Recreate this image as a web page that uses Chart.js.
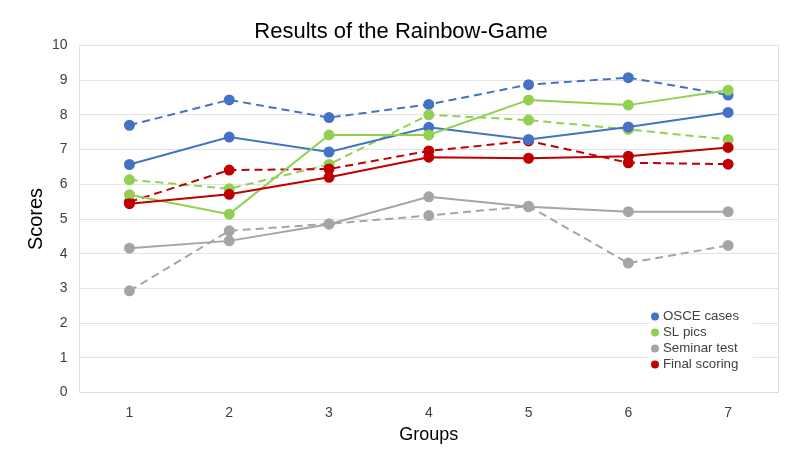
<!DOCTYPE html>
<html>
<head>
<meta charset="utf-8">
<script src="https://cdn.jsdelivr.net/npm/chart.js@4.4.0/dist/chart.umd.min.js"></script>
<style>
html,body{margin:0;padding:0;background:#fff;}
#wrap{width:800px;height:450px;}
</style>
</head>
<body>
<div id="wrap"><canvas id="c" width="800" height="450"></canvas></div>
<script>
const groups = ['1','2','3','4','5','6','7'];
const seriesNames = ['OSCE cases','SL pics','Seminar test','Final scoring'];
const osceSolid  = [6.57, 7.36, 6.93, 7.64, 7.29, 7.65, 8.07];
const osceDashed = [7.70, 8.43, 7.92, 8.30, 8.87, 9.07, 8.57];
const slSolid    = [5.70, 5.14, 7.42, 7.42, 8.43, 8.28, 8.71];
const slDashed   = [6.13, 5.87, 6.57, 8.00, 7.85, 7.58, 7.29];
const semSolid   = [4.16, 4.37, 4.85, 5.64, 5.35, 5.21, 5.21];
const semDashed  = [2.93, 4.66, 4.86, 5.10, 5.37, 3.73, 4.24];
const finSolid   = [5.44, 5.71, 6.20, 6.78, 6.75, 6.81, 7.06];
const finDashed  = [5.49, 6.41, 6.44, 6.96, 7.25, 6.62, 6.58];
const yTicks = [0,1,2,3,4,5,6,7,8,9,10];

const colors = ['#4472C4','#92D050','#A5A5A5','#C00000'];
const solids = [osceSolid, slSolid, semSolid, finSolid];
const dashes = [osceDashed, slDashed, semDashed, finDashed];

function ds(label, data, color, dashed, order){
  return {
    label: label, data: data,
    borderColor: color, backgroundColor: color,
    pointBackgroundColor: color, pointBorderColor: color,
    borderWidth: 2, pointRadius: 4.5, pointHoverRadius: 4.5,
    borderDash: dashed ? [8,5] : [],
    tension: 0, fill: false, order: order
  };
}
const datasets = [];
for (let i = 0; i < 4; i++) datasets.push(ds(seriesNames[i], solids[i], colors[i], false, 10 - i));
for (let i = 0; i < 4; i++) datasets.push(ds(seriesNames[i] + ' ', dashes[i], colors[i], true, 20 - i));

const legendPlugin = {
  id: 'insideLegend',
  afterDatasetsDraw(chart){
    const ctx = chart.ctx;
    const ca = chart.chartArea;
    const x0 = ca.right - 129;
    const y0 = ca.bottom - 86;
    ctx.save();
    ctx.fillStyle = '#ffffff';
    ctx.fillRect(x0, y0, 104, 67);
    ctx.font = '13.3px "Liberation Sans", Arial, sans-serif';
    ctx.textBaseline = 'middle';
    ctx.textAlign = 'left';
    for (let i = 0; i < seriesNames.length; i++){
      const cy = y0 + 10 + i * 16;
      ctx.beginPath();
      ctx.fillStyle = colors[i];
      ctx.arc(x0 + 6, cy, 4, 0, Math.PI * 2);
      ctx.fill();
      ctx.fillStyle = '#404040';
      ctx.fillText(seriesNames[i], x0 + 14, cy);
    }
    ctx.restore();
  }
};

const borderPlugin = {
  id: 'plotBorder',
  beforeDatasetsDraw(chart){
    const ctx = chart.ctx, ca = chart.chartArea;
    ctx.save();
    ctx.strokeStyle = '#e0e0e0';
    ctx.lineWidth = 1;
    ctx.beginPath();
    ctx.moveTo(Math.round(ca.right) + 0.5, ca.top);
    ctx.lineTo(Math.round(ca.right) + 0.5, ca.bottom);
    ctx.stroke();
    ctx.restore();
  }
};

new Chart(document.getElementById('c'), {
  type: 'line',
  data: { labels: groups, datasets: datasets },
  plugins: [borderPlugin, legendPlugin],
  options: {
    responsive: false,
    animation: false,
    layout: { padding: { left: 24, right: 22, top: 6, bottom: 4 } },
    plugins: {
      legend: { display: false },
      tooltip: { enabled: false },
      title: {
        display: true,
        text: 'Results of the Rainbow-Game',
        color: '#000000',
        font: { family: '"Liberation Sans", Arial, sans-serif', size: 22, weight: 'normal' },
        padding: { top: 13, bottom: 0 }
      }
    },
    scales: {
      x: {
        offset: true,
        grid: { display: false, drawTicks: false },
        border: { display: true, color: '#d9d9d9' },
        ticks: { color: '#404040', font: { family: '"Liberation Sans", Arial, sans-serif', size: 14 }, padding: 12 },
        title: { display: true, text: 'Groups', color: '#000000',
          font: { family: '"Liberation Sans", Arial, sans-serif', size: 18 }, padding: { top: -9, bottom: 0 } }
      },
      y: {
        min: 0, max: 10,
        afterBuildTicks(scale){ scale.ticks = yTicks.map(v => ({ value: v })); },
        grid: { color: '#e3e3e3', drawTicks: false, lineWidth: 1 },
        border: { display: true, color: '#e3e3e3' },
        ticks: { color: '#404040', font: { family: '"Liberation Sans", Arial, sans-serif', size: 14 }, padding: 12 },
        title: { display: true, text: 'Scores', color: '#000000',
          font: { family: '"Liberation Sans", Arial, sans-serif', size: 20 }, padding: { top: 0, bottom: -8 } }
      }
    }
  }
});
</script>
</body>
</html>
